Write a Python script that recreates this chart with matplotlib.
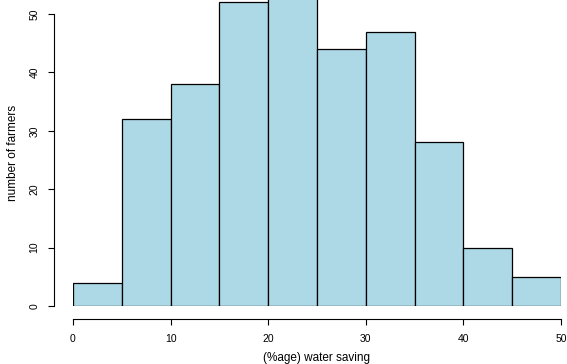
import matplotlib
matplotlib.use("Agg")
import matplotlib.pyplot as plt
import numpy as np

# Histogram of water saving (%) across farmers
bin_edges = [0, 5, 10, 15, 20, 25, 30, 35, 40, 45, 50]
counts = [4, 32, 38, 52, 55, 44, 47, 28, 10, 5]
x_ticks = [0, 10, 20, 30, 40, 50]
y_ticks = [0, 10, 20, 30, 40, 50]

plt.rcParams['font.family'] = ['Liberation Sans', 'DejaVu Sans']

W, H = 567, 364
fig = plt.figure(figsize=(W / 100, H / 100), dpi=100)
ax = fig.add_axes([73 / W, (H - 306) / H, 488 / W, 306 / H])

lefts = np.array(bin_edges[:-1])
widths = np.diff(bin_edges)
ax.bar(lefts, counts, width=widths, align='edge', color='#ADD8E6',
       edgecolor='black', linewidth=0.9, clip_on=True)

ax.set_xlim(0, 50)
ax.set_ylim(0, 306 / 5.84)

for s in ('top', 'right'):
    ax.spines[s].set_visible(False)
ax.spines['left'].set_position(('outward', 19 * 0.72))
ax.spines['bottom'].set_position(('outward', 13 * 0.72))
ax.spines['left'].set_bounds(0, 50)
ax.spines['bottom'].set_bounds(0, 50)
for s in ('left', 'bottom'):
    ax.spines[s].set_linewidth(0.8)

ax.set_xticks(x_ticks)
ax.set_yticks(y_ticks)
ax.tick_params(axis='both', length=4.5, width=0.8, labelsize=7.5, pad=6)
for lbl in ax.get_yticklabels():
    lbl.set_rotation(90)
    lbl.set_va('center')

ax.set_xlabel('(%age) water saving', fontsize=8.5, labelpad=6)
ax.set_ylabel('number of farmers', fontsize=8.5, labelpad=7.5)

fig.savefig('out.png', dpi=100)
